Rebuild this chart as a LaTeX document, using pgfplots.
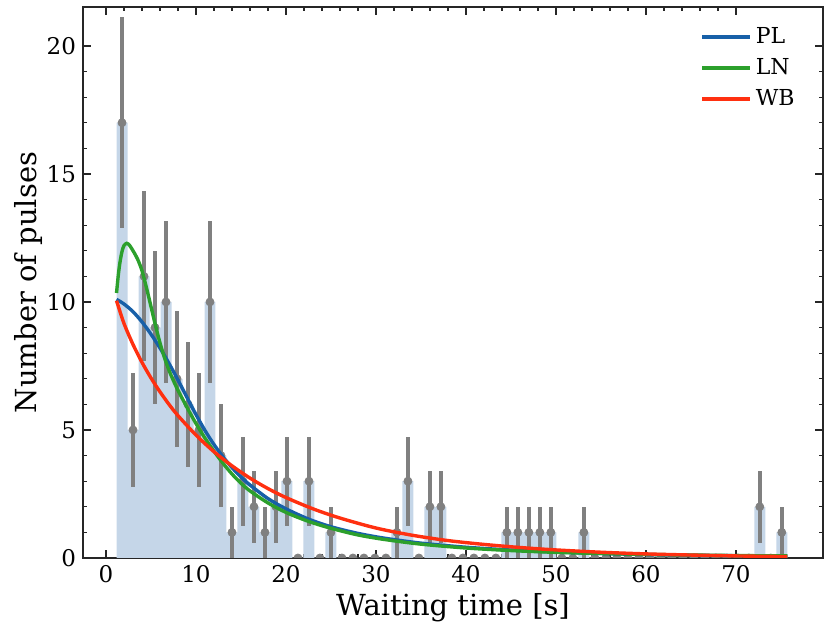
\documentclass[border=0pt]{standalone}
\usepackage{pgfplots}
\usepackage{pgfplotstable}
\pgfplotsset{compat=1.18}
\usepackage{fontspec}
\setmainfont{DejaVu Serif}
\definecolor{barc}{RGB}{197,214,232}
\definecolor{plc}{RGB}{23,96,168}
\definecolor{lnc}{RGB}{44,160,44}
\definecolor{wbc}{RGB}{255,48,16}
\definecolor{errc}{RGB}{128,128,128}
\pgfplotstableread{
x y e
1.781 17 4.123
3.003 5 2.236
4.225 11 3.317
5.447 9 3.000
6.668 10 3.162
7.890 7 2.646
9.112 6 2.449
10.334 5 2.236
11.556 10 3.162
12.777 4 2.000
13.999 1 1.000
15.221 3 1.732
16.443 2 1.414
17.665 1 1.000
18.886 2 1.414
20.108 3 1.732
21.330 0 0
22.552 3 1.732
23.773 0 0
24.995 1 1.000
26.217 0 0
27.439 0 0
28.661 0 0
29.882 0 0
31.104 0 0
32.326 1 1.000
33.548 3 1.732
34.770 0 0
35.991 2 1.414
37.213 2 1.414
38.435 0 0
39.657 0 0
40.879 0 0
42.100 0 0
43.322 0 0
44.544 1 1.000
45.766 1 1.000
46.988 1 1.000
48.209 1 1.000
49.431 1 1.000
50.653 0 0
51.875 0 0
53.097 1 1.000
54.318 0 0
55.540 0 0
56.762 0 0
57.984 0 0
59.206 0 0
60.427 0 0
61.649 0 0
62.871 0 0
64.093 0 0
65.314 0 0
66.536 0 0
67.758 0 0
68.980 0 0
70.202 0 0
71.423 0 0
72.645 2 1.414
73.867 0 0
75.089 1 1.000
}\hist
\pgfplotstableread{
x y
1.17 10.10
2 9.92
3 9.62
4 9.22
5 8.74
6 8.20
7 7.60
8 6.95
9 6.27
10 5.60
11 4.98
12 4.43
13 3.95
14 3.53
15 3.16
16 2.85
18 2.32
20 1.92
22.5 1.52
25 1.22
28 0.96
31 0.77
35 0.58
40 0.42
45 0.31
50 0.23
55 0.175
60 0.135
65 0.108
70 0.088
75.7 0.072
}\pl
\pgfplotstableread{
x y
1.17 10.35
1.4 11.15
1.6 11.65
1.8 12.00
2.0 12.20
2.3 12.29
2.6 12.22
3.0 12.00
3.5 11.68
4.0 11.22
4.5 10.55
5.0 9.82
5.5 9.08
6.0 8.40
6.5 7.82
7.0 7.33
7.5 6.92
8.0 6.55
9.0 5.88
10.0 5.25
11.0 4.68
12.0 4.17
13.0 3.70
14.0 3.28
15.0 2.92
16.0 2.62
18.0 2.15
20.0 1.78
22.5 1.43
25 1.16
28 0.90
31 0.72
35 0.54
40 0.39
45 0.29
50 0.22
55 0.175
60 0.14
65 0.115
70 0.095
75.7 0.08
}\ln
\pgfplotstableread{
x y
1.17 10.05
2 9.16
3 8.34
4 7.64
5 7.03
6 6.49
7 6.00
8 5.56
10 4.80
12 4.15
14 3.60
16 3.12
18 2.71
20 2.36
23 1.92
26 1.56
30 1.17
34 0.89
38 0.68
42 0.53
46 0.41
50 0.315
55 0.225
60 0.16
65 0.115
70 0.08
75.7 0.055
}\wb
\begin{document}
\begin{tikzpicture}
\path[use as bounding box] (-41.5pt,-38.5pt) rectangle (374pt,279pt);
\begin{axis}[
  scale only axis, width=370pt, height=275.5pt,
  xmin=-2.556, xmax=79.67, ymin=0, ymax=21.52,
  xtick={0,10,20,30,40,50,60,70},
  ytick={0,5,10,15,20},
  minor x tick num=4, minor y tick num=4,
  tick align=inside, xtick pos=both, ytick pos=both,
  major tick length=4pt, minor tick length=2pt,
  every tick/.style={black!85, line width=0.6pt},
  axis line style={black!85, line width=0.8pt},
  /pgf/number format/assume math mode=true,
  tick label style={font=\fontsize{11.5}{13}\selectfont},
  label style={font=\fontsize{14.5}{17}\selectfont},
  xlabel={Waiting time [s]},
  ylabel={Number of pulses},
  xlabel style={at={(axis description cs:0.5,-0.0907)}, anchor=center},
  ylabel style={at={(axis description cs:-0.0743,0.5)}, anchor=center},
  clip marker paths=true,
  legend style={at={(axis description cs:1,1)}, anchor=north east, xshift=-9pt, yshift=-6pt,
    draw=none, fill=none, font=\fontsize{11}{13}\selectfont, row sep=2pt},
  legend cell align=left,
  legend image code/.code={\draw[#1] (0pt,0pt) -- (24pt,0pt);},
]
\addplot[ybar, bar width=1.2218, bar shift=0pt, fill=barc, draw=none, forget plot] table[x=x,y=y] {\hist};
\addplot[errc, only marks, mark=*, mark size=2pt, forget plot,
  error bars/.cd, y dir=both, y explicit, error mark=none,
  error bar style={line width=1.8pt, errc}] table[x=x, y=y, y error=e] {\hist};
\addplot[plc, line width=1.7pt, smooth] table[x=x,y=y] {\pl};
\addlegendentry{PL}
\addplot[lnc, line width=1.7pt, smooth] table[x=x,y=y] {\ln};
\addlegendentry{LN}
\addplot[wbc, line width=1.7pt, smooth] table[x=x,y=y] {\wb};
\addlegendentry{WB}
\end{axis}
\end{tikzpicture}
\end{document}
